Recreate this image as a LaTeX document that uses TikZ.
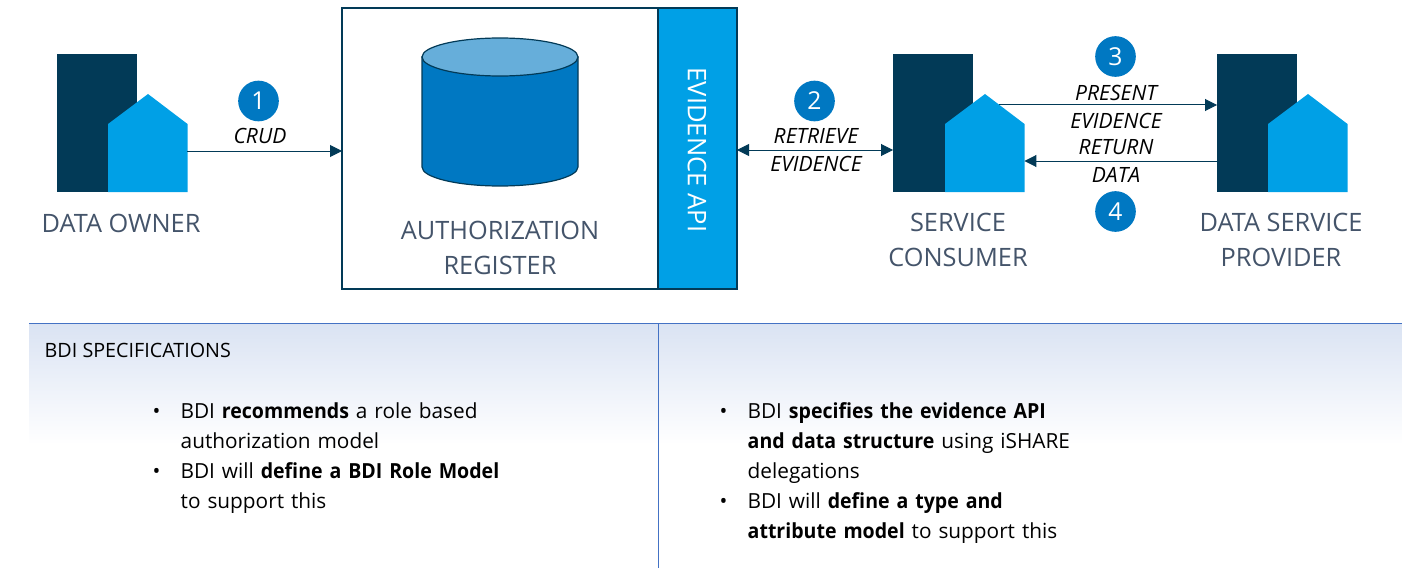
\documentclass[tikz,border=0pt]{standalone}
\usepackage{fontspec}
\setmainfont{Open Sans}[BoldFeatures={FakeStretch=0.94}]
\usepackage{xcolor}
\usetikzlibrary{arrows.meta, positioning, shapes.geometric, calc}
\definecolor{mynavy}{RGB}{2,58,87}
\definecolor{mysky}{RGB}{0,160,230}
\definecolor{myround}{RGB}{0,120,194}
\definecolor{mytop}{RGB}{102,174,218}
\definecolor{mygrey}{RGB}{68,84,106}
\definecolor{myline}{RGB}{68,114,196}
\definecolor{mypanel}{RGB}{218,227,243}
\newcommand{\bdiicon}[3]{% name, left x, left x of the house
\node[bldg, anchor=north west] (#1bldg) at (#2,54) {};
\fill[mysky] (#3,192) -- (#3,124) -- ($(#3,94)+(40,0)$) -- ($(#3,124)+(79.5,0)$) -- ($(#3,192)+(79.5,0)$) -- cycle;
\node[hse, anchor=south west] (#1hse) at (#3,192) {};
}
\tikzset{
bldg/.style={fill=mynavy, inner sep=0pt, outer sep=0pt, minimum width=60pt, minimum height=103.5pt},
hse/.style={inner sep=0pt, outer sep=0pt, minimum width=59.6pt, minimum height=73.5pt},
num/.style={circle, fill=myround, text=white, inner sep=0pt, minimum size=30.5pt, font=\fontsize{18.5}{22}\selectfont},
lbl/.style={text=mygrey, align=center, font=\fontsize{19}{26}\selectfont},
tag/.style={align=center, font=\fontsize{15.8}{21}\selectfont\itshape},
conn/.style={mynavy, line width=0.75pt},
tip/.tip={Triangle[length=9pt, width=9pt]},
body/.style={align=left, anchor=north west, font=\fontsize{15.6}{22.5}\selectfont},
}
\begin{document}
\begin{tikzpicture}[x=0.75pt, y=-0.75pt]
\useasboundingbox (0,0) rectangle (1403,585);
% panel below
\node[inner sep=0pt, anchor=north west, minimum width=1029pt, minimum height=91pt, top color=mypanel, bottom color=white] (panel) at (29,323) {};
\draw[myline, line width=0.75pt] (panel.north west) -- (panel.north east);
\coordinate (splitTop) at (658,323);
\coordinate (splitEnd) at (658,568);
\draw[myline, line width=0.6pt] (splitTop) -- (splitEnd);
% register
\node[draw=mynavy, line width=1.9pt, inner sep=0pt, outer sep=0pt, anchor=north west, minimum width=237pt, minimum height=210.75pt] (reg) at (342,8) {};
\node[draw=mynavy, fill=mysky, line width=1.9pt, inner sep=0pt, outer sep=0pt, anchor=north west, minimum width=59.25pt, minimum height=210.75pt] (api) at (658,8) {};
\node[text=white, rotate=-90, font=\fontsize{19.2}{22}\selectfont] (apitxt) at (697,150) {EVIDENCE API};
\node[inner sep=0pt, minimum width=117pt, minimum height=111pt] (db) at (500,112) {};
\filldraw[draw=mynavy, fill=myround, line width=0.9pt] (422,57) -- (422,167) arc[start angle=180, end angle=360, x radius=58.5pt, y radius=14.25pt] -- (578,57) -- cycle;
\filldraw[draw=mynavy, fill=mytop, line width=0.9pt] (500,57) ellipse[x radius=58.5pt, y radius=14.25pt];
\node[lbl] (reglbl) at (500,248) {AUTHORIZATION\\REGISTER};
% parties
\bdiicon{own}{57}{108}
\bdiicon{con}{893}{945}
\bdiicon{pro}{1217}{1268}
\node[lbl] (ownlbl) at (121,223) {DATA OWNER};
\node[lbl] (conlbl) at (958,240) {SERVICE\\CONSUMER};
\node[lbl] (prolbl) at (1281,240) {DATA SERVICE\\PROVIDER};
% steps
\node[num] (n1) at (258.5,101) {1};
\node[num] (n2) at (814.5,101) {2};
\node[num] (n3) at (1115.5,56.5) {3};
\node[num] (n4) at (1115.5,211.5) {4};
\node[tag] (t1) at (260,136) {CRUD};
\node[tag] (t2) at (816,150) {RETRIEVE\\EVIDENCE};
\node[tag] (t3) at (1116,107) {PRESENT\\EVIDENCE};
\node[tag] (t4) at (1116,161) {RETURN\\DATA};
% connectors
\coordinate (r1) at (0,151);
\coordinate (r2) at (0,150);
\coordinate (r3) at (999,105);
\coordinate (r4) at (0,161);
\draw[conn, -{tip}] (ownhse.east |- r1) -- (reg.west |- r1);
\draw[conn, {tip}-{tip}] (api.east |- r2) -- (conbldg.west |- r2);
\draw[conn, -{tip}] (r3) -- (probldg.west |- r3);
\draw[conn, -{tip}] (probldg.west |- r4) -- (conhse.east |- r4);
% text panel
\node[font=\fontsize{14.8}{16}\selectfont, anchor=west] (spec) at (40,350) {BDI SPECIFICATIONS};
\node[body, text width=300pt] (left) at (148,398) {\textbullet\hspace{15pt}BDI \textbf{recommends} a role based\\
\hspace*{21pt}authorization model\\
\textbullet\hspace{15pt}BDI will \textbf{define a BDI Role Model}\\
\hspace*{21pt}to support this};
\node[body, text width=300pt] (right) at (715,398) {\textbullet\hspace{15pt}BDI \textbf{specifies the evidence API}\\
\hspace*{21pt}\textbf{and data structure} using iSHARE\\
\hspace*{21pt}delegations\\
\textbullet\hspace{15pt}BDI will \textbf{define a type and}\\
\hspace*{21pt}\textbf{attribute model} to support this};
\end{tikzpicture}
\end{document}
